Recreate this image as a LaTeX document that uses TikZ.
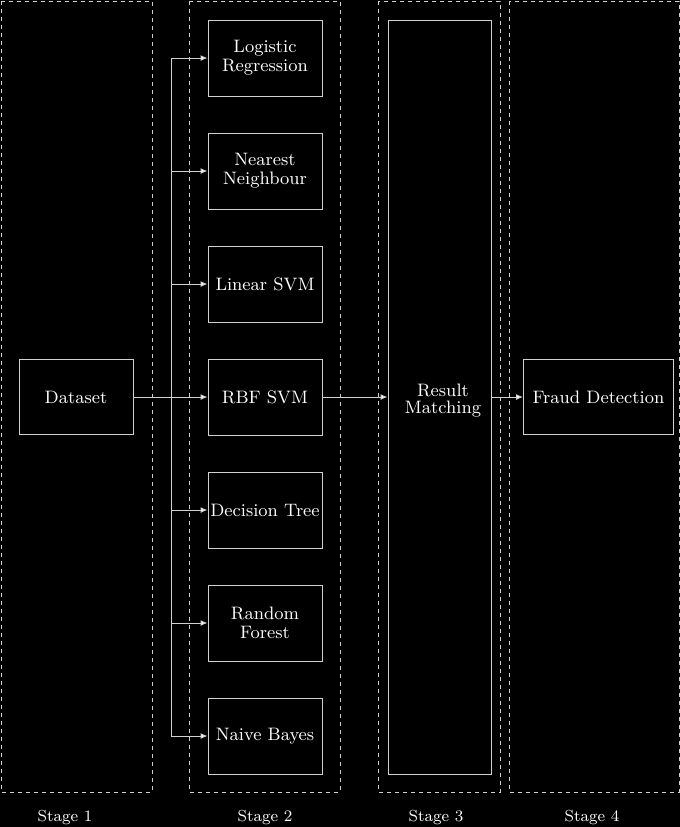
\documentclass[tikz,border=0pt]{standalone}
\usetikzlibrary{arrows.meta}
\begin{document}
\begin{tikzpicture}[x=0.5pt,y=-0.5pt,
  linec/.style={draw=black!18},
  frame/.style={linec,line width=0.5pt,dash pattern=on 2pt off 2pt},
  box/.style={linec,line width=0.5pt,rectangle,inner sep=0pt,text=white,align=center,
    font=\fontsize{9}{9.5}\selectfont},
  mbox/.style={box,minimum width=57pt,minimum height=38pt},
  arr/.style={linec,line width=0.5pt,-{Latex[length=3.5pt,width=3pt,fill=white]}},
  lab/.style={text=white,font=\fontsize{8}{9}\selectfont}]
\fill[black] (0,0) rectangle (680,827);
\useasboundingbox (0,0) rectangle (680,827);
% stage frames
\draw[frame] (1,1) rectangle (152,792);
\draw[frame] (189,1) rectangle (340,792);
\draw[frame] (378,1) rectangle (500,792);
\draw[frame] (509,1) rectangle (679,792);
% nodes
\node[box,minimum width=57pt,minimum height=37.5pt] (ds) at (76,397) {Dataset};
\node[mbox] (lr) at (265,58) {\fontsize{9}{7.8}\selectfont Logistic\\Regression};
\node[mbox] (nn) at (265,171) {Nearest\\Neighbour};
\node[mbox] (ls) at (265,284) {Linear SVM};
\node[mbox] (rbf) at (265,397) {RBF SVM};
\node[mbox] (dt) at (265,510) {Decision Tree};
\node[mbox] (rf) at (265,623) {Random\\Forest};
\node[mbox] (nb) at (265,736) {Naive Bayes};
\node[box,minimum width=51.5pt,minimum height=377pt] (rm) at (439.5,397) {};
\node[text=white,align=center,font=\fontsize{9}{8.5}\selectfont] (rmt) at (443,401) {Result\\Matching};
\node[box,minimum width=75pt,minimum height=37.5pt] (fd) at (598.5,397) {Fraud Detection};
% labels
\node[lab] (s1) at (65,817) {Stage 1};
\node[lab] (s2) at (265,817) {Stage 2};
\node[lab] (s3) at (436,817) {Stage 3};
\node[lab] (s4) at (592,817) {Stage 4};
% connectors
\coordinate (bus) at (171,397);
\draw[arr] (ds.east) -- (rbf.west);
\draw[linec,line width=0.5pt] (bus |- lr.west) -- (bus |- nb.west);
\foreach \n in {lr,nn,ls,dt,rf,nb}{
  \draw[arr] (bus |- \n.west) -- (\n.west);
}
\draw[arr] (rbf.east) -- (rm.west);
\draw[arr] (rm.east) -- (fd.west);
\end{tikzpicture}
\end{document}
